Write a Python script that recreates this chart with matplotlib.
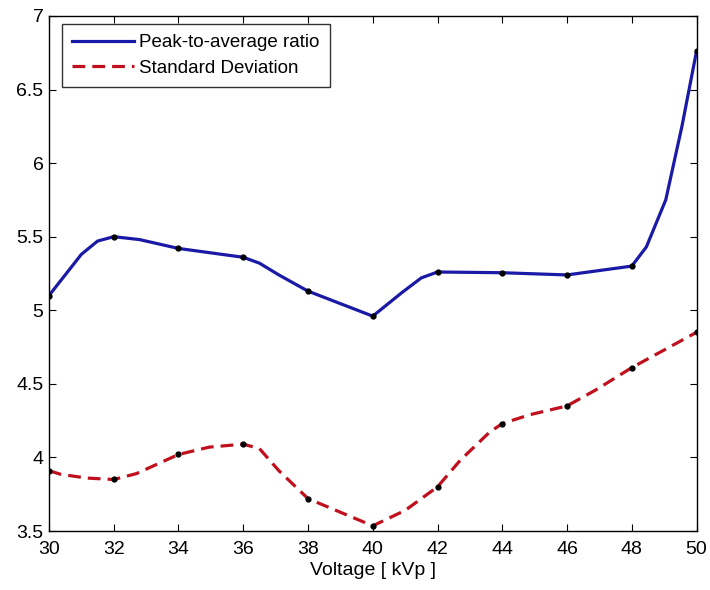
import matplotlib
matplotlib.use("Agg")
import matplotlib.pyplot as plt

# Peak-to-average ratio (markers at even voltages)
par_voltage = [30, 31, 31.5, 32, 32.8, 34, 36, 36.5, 37.1, 38, 40, 40.9, 41.5, 42, 44, 46, 48, 48.45, 49.05, 49.55, 50]
par_values = [5.10, 5.38, 5.47, 5.50, 5.48, 5.42, 5.36, 5.32, 5.24, 5.13, 4.96, 5.12, 5.22, 5.26, 5.255, 5.24, 5.30, 5.43, 5.75, 6.25, 6.76]

# Standard deviation (markers at even voltages)
std_voltage = [30, 30.35, 31.15, 32, 32.7, 34, 34.95, 36, 36.5, 37.1, 38, 40, 41, 42, 42.7, 43.6, 44, 44.85, 46, 46.9, 48, 50]
std_values = [3.91, 3.886, 3.86, 3.85, 3.89, 4.02, 4.07, 4.09, 4.06, 3.91, 3.72, 3.535, 3.64, 3.80, 3.98, 4.17, 4.23, 4.29, 4.35, 4.46, 4.61, 4.85]

x_ticks = [30, 32, 34, 36, 38, 40, 42, 44, 46, 48, 50]
y_ticks = [3.5, 4, 4.5, 5, 5.5, 6, 6.5, 7]
y_ticklabels = ["3.5", "4", "4.5", "5", "5.5", "6", "6.5", "7"]

plt.rcParams['font.family'] = ['Liberation Sans', 'DejaVu Sans']

fig = plt.figure(figsize=(7.1, 5.9), dpi=100)
ax = fig.add_axes([0.069, 0.1, 0.912, 0.873])

par_marks = [i for i, v in enumerate(par_voltage) if v in x_ticks]
std_marks = [i for i, v in enumerate(std_voltage) if v in x_ticks]

ax.plot(par_voltage, par_values, color='#1a1aa6', lw=2.3, solid_joinstyle='round',
        label='Peak-to-average ratio')
ax.plot(std_voltage, std_values, color='#c0101e', lw=2.3, ls=(0, (4, 2.2)),
        label='Standard Deviation')
ax.plot([par_voltage[i] for i in par_marks], [par_values[i] for i in par_marks],
        ls='none', marker='o', ms=3.5, color='black')
ax.plot([std_voltage[i] for i in std_marks], [std_values[i] for i in std_marks],
        ls='none', marker='o', ms=3.5, color='black')

ax.set_xlim(30, 50)
ax.set_ylim(3.5, 7)
ax.set_xticks(x_ticks)
ax.set_yticks(y_ticks)
ax.set_yticklabels(y_ticklabels)
ax.tick_params(direction='in', top=True, right=True, length=5, width=0.8,
               labelsize=14)
ax.tick_params(axis='x', pad=7)
ax.tick_params(axis='y', pad=4)
for s in ax.spines.values():
    s.set_linewidth(1.0)
ax.set_xlabel('Voltage [ kVp ]', fontsize=14, labelpad=3)

leg = ax.legend(loc='upper left', bbox_to_anchor=(0.02, 0.9845), fontsize=13.5,
                handlelength=3.3, frameon=True, fancybox=False, edgecolor='black',
                borderpad=0.55, labelspacing=0.45, handletextpad=0.25, borderaxespad=0)
leg.get_frame().set_linewidth(1.0)

fig.savefig('out.png', dpi=100)
